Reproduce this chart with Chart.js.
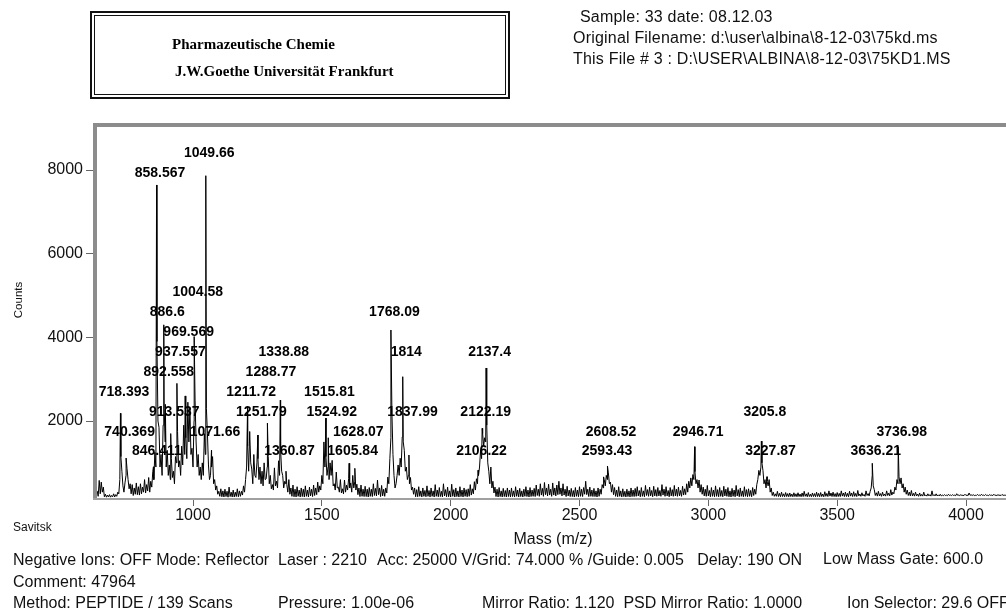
<!DOCTYPE html>
<html>
<head>
<meta charset="utf-8">
<script src="https://cdn.jsdelivr.net/npm/chart.js@4.4.1/dist/chart.umd.min.js"></script>
<style>
html, body { margin: 0; padding: 0; background: #fff; overflow: hidden; }
#wrap { position: relative; width: 1006px; height: 612px; }
canvas { position: absolute; left: 0; top: 0; }
.t { position: absolute; white-space: pre; font-family: "Liberation Sans", Arial, sans-serif;
     font-size: 16px; line-height: 18px; color: #111; }
.hdr { letter-spacing: 0.2px; }
.small { font-size: 12px; line-height: 14px; }
.serif { font-family: "Liberation Serif", "Times New Roman", serif; font-weight: bold;
         font-size: 15px; line-height: 15px; color: #000; }
.box-o { position: absolute; left: 90px; top: 11px; width: 420px; height: 88px;
         border: 2px solid #111; box-sizing: border-box; }
.box-i { position: absolute; left: 94px; top: 15px; width: 412px; height: 80px;
         border: 1px solid #111; box-sizing: border-box; }
</style>
</head>
<body>
<div id="wrap">
  <canvas id="c" width="1006" height="612"></canvas>

  <div class="box-o"></div>
  <div class="box-i"></div>
  <div class="t serif" style="left:172px;top:37px">Pharmazeutische Chemie</div>
  <div class="t serif" style="left:175px;top:64px">J.W.Goethe Universität Frankfurt</div>

  <div class="t hdr" style="left:580px;top:8px">Sample: 33 date: 08.12.03</div>
  <div class="t hdr" style="left:573px;top:29px">Original Filename: d:\user\albina\8-12-03\75kd.ms</div>
  <div class="t hdr" style="left:573px;top:50px">This File # 3 : D:\USER\ALBINA\8-12-03\75KD1.MS</div>

  <div class="t small" style="left:13px;top:520px">Savitsk</div>
  <div class="t" style="left:13px;top:551px">Negative Ions: OFF Mode: Reflector  Laser : 2210</div>
  <div class="t" style="left:377px;top:551px">Acc: 25000 V/Grid: 74.000 % /Guide: 0.005   Delay: 190 ON</div>
  <div class="t" style="left:823px;top:550px">Low Mass Gate: 600.0</div>
  <div class="t" style="left:13px;top:573px">Comment: 47964</div>
  <div class="t" style="left:13px;top:594px">Method: PEPTIDE / 139 Scans</div>
  <div class="t" style="left:278px;top:594px">Pressure: 1.00e-06</div>
  <div class="t" style="left:482px;top:594px">Mirror Ratio: 1.120  PSD Mirror Ratio: 1.0000</div>
  <div class="t" style="left:847px;top:594px">Ion Selector: 29.6 OFF</div>
</div>

<script>
// Axis ticks
const xTicks = [1000, 1500, 2000, 2500, 3000, 3500, 4000];
const yTicks = [2000, 4000, 6000, 8000];

// Raw profile, sampled every 4 Da starting at m/z 628 (20 samples per line)
const gridStart = 628;
const gridStep = 4;
const rawCounts = [
  330, 200, 580, 260, 540, 300, 420, 190, 250, 180, 230, 185, 240, 180, 220, 190, 260, 185, 240, 200,           // 628
  300, 260, 600, 1150, 800, 450, 300, 520, 700, 860, 600, 380, 500, 260, 480, 220, 400, 250, 520, 240,          // 708
  430, 230, 500, 260, 420, 300, 600, 280, 480, 330, 650, 300, 560, 420, 800, 600, 1250, 900, 3900, 2000,        // 788
  1850, 900, 1200, 700, 1900, 2300, 1500, 900, 1300, 700, 950, 600, 1100, 650, 800, 500, 1150, 1000, 1750, 900, // 868
  1050, 700, 1400, 950, 1900, 1200, 1600, 1100, 2450, 1500, 2300, 1200, 1350, 900, 2000, 2500, 1500, 900, 1200, 700, // 948
  900, 600, 1000, 700, 1700, 1200, 2300, 1700, 950, 600, 700, 900, 1150, 500, 600, 350, 450, 250, 320, 200,     // 1028
  380, 190, 330, 185, 370, 195, 320, 180, 420, 195, 300, 185, 350, 185, 300, 195, 380, 190, 330, 200,           // 1108
  320, 230, 450, 300, 600, 900, 1400, 800, 1750, 1000, 850, 500, 1200, 700, 650, 1000, 1100, 600, 900, 500,     // 1188
  800, 450, 1000, 600, 620, 900, 1150, 500, 700, 380, 480, 350, 880, 450, 560, 400, 1050, 700, 1300, 800,       // 1268
  700, 400, 560, 500, 480, 300, 600, 250, 400, 200, 470, 190, 370, 185, 430, 200, 350, 185, 400, 195,           // 1348
  370, 185, 450, 200, 350, 185, 420, 210, 370, 195, 470, 220, 400, 240, 540, 300, 450, 350, 700, 500,           // 1428
  1500, 900, 1150, 700, 900, 600, 1000, 700, 1060, 450, 500, 350, 780, 400, 420, 300, 600, 280, 380, 260,       // 1508
  590, 300, 470, 350, 620, 400, 520, 300, 700, 400, 560, 350, 490, 240, 400, 195, 470, 200, 370, 195,           // 1588
  440, 195, 370, 185, 410, 200, 370, 195, 500, 220, 390, 210, 590, 240, 400, 195, 460, 210, 370, 200,           // 1668
  400, 280, 660, 500, 1100, 1600, 2190, 1200, 700, 400, 500, 700, 950, 700, 1110, 900, 1620, 1500, 1300, 800,   // 1748
  900, 600, 700, 500, 650, 350, 420, 250, 400, 190, 360, 190, 430, 200, 330, 185, 400, 200, 340, 190,           // 1828
  450, 200, 340, 185, 400, 200, 330, 185, 480, 200, 350, 190, 410, 195, 320, 185, 500, 210, 360, 190,           // 1908
  420, 190, 330, 185, 490, 200, 360, 185, 400, 195, 330, 185, 430, 195, 350, 185, 400, 200, 360, 190,           // 1988
  380, 200, 480, 230, 380, 260, 550, 350, 620, 500, 700, 900, 1300, 1100, 1700, 1400, 1600, 1500, 1900, 1000,   // 2068
  800, 500, 900, 400, 560, 280, 420, 195, 370, 185, 410, 195, 330, 185, 390, 195, 340, 185, 400, 195,           // 2148
  350, 185, 400, 195, 330, 185, 430, 200, 350, 185, 390, 195, 330, 185, 370, 200, 430, 195, 350, 185,           // 2228
  410, 195, 350, 200, 390, 195, 470, 220, 370, 200, 500, 230, 390, 200, 530, 240, 400, 210, 490, 230,           // 2308
  370, 200, 520, 230, 400, 210, 470, 240, 560, 250, 400, 210, 500, 230, 370, 195, 440, 210, 350, 195,           // 2388
  390, 195, 340, 185, 410, 200, 350, 190, 430, 200, 370, 195, 410, 250, 560, 240, 370, 195, 420, 200,           // 2468
  350, 195, 390, 195, 330, 185, 400, 200, 370, 250, 480, 400, 600, 450, 700, 600, 760, 500, 540, 300,           // 2548
  480, 240, 410, 200, 350, 190, 430, 200, 330, 185, 380, 195, 320, 185, 370, 195, 330, 185, 400, 195,           // 2628
  350, 195, 390, 200, 430, 210, 340, 190, 410, 200, 330, 190, 460, 220, 360, 200, 420, 210, 340, 190,           // 2708
  440, 210, 360, 200, 410, 210, 340, 200, 480, 230, 370, 200, 430, 210, 340, 190, 410, 210, 360, 200,           // 2788
  460, 210, 370, 200, 420, 210, 340, 200, 440, 230, 380, 240, 500, 300, 560, 400, 640, 450, 720, 600,           // 2868
  790, 500, 600, 400, 590, 300, 480, 250, 420, 210, 370, 200, 460, 210, 340, 190, 410, 200, 350, 190,           // 2948
  450, 200, 360, 190, 410, 200, 340, 190, 440, 210, 370, 200, 410, 190, 330, 185, 390, 200, 350, 190,           // 3028
  460, 210, 360, 190, 400, 200, 330, 190, 430, 200, 360, 190, 380, 200, 340, 190, 410, 220, 370, 250,           // 3108
  480, 600, 820, 700, 900, 1000, 820, 500, 600, 400, 560, 450, 600, 300, 400, 220, 300, 200, 260, 200,          // 3188
  320, 195, 270, 190, 300, 195, 260, 190, 290, 195, 265, 190, 280, 195, 255, 190, 285, 195, 260, 190,           // 3268
  285, 195, 255, 190, 280, 195, 320, 200, 260, 190, 290, 195, 250, 190, 280, 195, 265, 190, 300, 195,           // 3348
  270, 190, 290, 195, 255, 190, 310, 200, 270, 195, 330, 205, 280, 195, 300, 195, 265, 190, 290, 195,           // 3428
  270, 195, 330, 205, 280, 195, 300, 195, 270, 190, 320, 205, 280, 195, 310, 200, 270, 195, 340, 210,           // 3508
  255, 200, 285, 210, 245, 200, 330, 220, 265, 210, 320, 400, 700, 450, 360, 220, 285, 205, 320, 210,           // 3588
  265, 200, 300, 210, 255, 205, 330, 220, 275, 210, 360, 230, 300, 260, 420, 350, 600, 500, 665, 500,           // 3668
  640, 400, 500, 300, 420, 250, 350, 220, 300, 210, 340, 210, 270, 205, 300, 210, 255, 200, 280, 205,           // 3748
  245, 205, 300, 210, 235, 205, 260, 210, 240, 205, 330, 215, 240, 210, 260, 210, 235, 210, 250, 210,           // 3828
  230, 215, 240, 220, 228, 215, 250, 220, 232, 218, 240, 220, 228, 215, 262, 222, 232, 218, 240, 220,           // 3908
  226, 218, 250, 220, 232, 218, 280, 225, 236, 220, 240, 218, 226, 218, 245, 222, 230, 218, 250, 222,           // 3988
  230, 218, 245, 222, 226, 218, 240, 222, 230, 218, 250, 222, 228, 218, 240, 222, 230, 218, 245, 222,           // 4068
  230, 220, 240                                                                                                 // 4148
];

// Centroided, labelled peaks
const peakMz = [
  718.393, 740.369, 846.411, 858.567, 886.6, 892.558, 913.537, 937.557, 969.569,
  1004.58, 1049.66, 1071.66, 1211.72, 1251.79, 1288.77, 1338.88, 1360.87,
  1515.81, 1524.92, 1605.84, 1628.07, 1768.09, 1814, 1837.99,
  2106.22, 2122.19, 2137.4, 2593.43, 2608.52, 2946.71, 3205.8, 3227.87,
  3636.21, 3736.98
];
const peakCounts = [
  2185, 1115, 905, 7643, 4300, 2400, 1700, 2900, 2600,
  4020, 7865, 1300, 2340, 1665, 1950, 2500, 800,
  2070, 1600, 990, 870, 4176, 3060, 1188,
  825, 1826, 3268, 665, 925, 1386, 1520, 669,
  990, 1386
];

// Merge the sampled profile with the peak apexes into one trace
const spectrum = rawCounts.map((c, i) => ({ x: gridStart + gridStep * i, y: c }))
  .concat(peakMz.map((m, i) => ({ x: m, y: peakCounts[i] })))
  .sort((a, b) => a.x - b.x);

const FONT = '"Liberation Sans", Arial, sans-serif';

// Peak annotations: stacked on a fixed row grid, pushed upward when they collide
const peakLabels = {
  id: 'peakLabels',
  beforeDatasetsDraw(chart) {
    const { ctx, chartArea, scales: { x, y } } = chart;
    const rowTop = chartArea.top + 26.1, pitch = 19.9, pad = 6;
    const placed = [];
    ctx.save();
    ctx.font = 'bold 14px ' + FONT;
    ctx.fillStyle = '#000';
    ctx.textAlign = 'center';
    ctx.textBaseline = 'middle';
    peakMz.forEach((m, i) => {
      const text = String(m);
      const w = ctx.measureText(text).width;
      const cx = x.getPixelForValue(m) + 3.5;
      const apex = y.getPixelForValue(peakCounts[i]);
      let row = Math.floor((apex - 10 - rowTop) / pitch);
      const l = cx - w / 2, r = cx + w / 2;
      while (row > 0 && placed.some(p => p.row === row && l < p.r + pad && p.l < r + pad)) row--;
      placed.push({ row, l, r });
      ctx.fillText(text, cx, rowTop + row * pitch);
    });
    ctx.restore();
  }
};

// Grey plot frame and axis titles
const framePlugin = {
  id: 'frame',
  afterDatasetsDraw(chart) {
    const { ctx, chartArea: a } = chart;
    ctx.save();
    ctx.fillStyle = '#8c8c8c';
    ctx.fillRect(a.left - 4, a.top - 4, a.right - a.left + 4, 4);
    ctx.fillRect(a.left - 4, a.top - 4, 4, a.bottom - a.top + 6);
    ctx.fillStyle = '#a0a0a0';
    ctx.fillRect(a.left - 4, a.bottom, a.right - a.left + 4, 2);
    ctx.restore();
  },
  afterDraw(chart) {
    const { ctx } = chart;
    ctx.save();
    ctx.fillStyle = '#111';
    ctx.textAlign = 'center';
    ctx.textBaseline = 'middle';
    ctx.font = '16px ' + FONT;
    ctx.fillText('Mass (m/z)', 553, 540);
    ctx.translate(19, 300);
    ctx.rotate(-Math.PI / 2);
    ctx.font = '11.5px ' + FONT;
    ctx.fillText('Counts', 0, 0);
    ctx.restore();
  }
};

new Chart(document.getElementById('c'), {
  type: 'line',
  data: {
    datasets: [{
      data: spectrum,
      borderColor: '#000',
      borderWidth: 1,
      pointRadius: 0,
      tension: 0,
      fill: false
    }]
  },
  options: {
    responsive: false,
    animation: false,
    devicePixelRatio: 1,
    events: [],
    layout: { padding: { top: 127, left: 0, right: 0, bottom: 0 } },
    plugins: { legend: { display: false }, tooltip: { enabled: false } },
    scales: {
      x: {
        type: 'linear',
        min: 627.4,
        max: 4155.2,
        afterBuildTicks: s => { s.ticks = xTicks.map(v => ({ value: v })); },
        afterFit: s => { s.height = 114; },
        border: { display: false },
        grid: { drawOnChartArea: false, tickLength: 8, color: '#666' },
        ticks: {
          autoSkip: false, maxRotation: 0, padding: 0, color: '#111',
          font: { family: FONT, size: 16 },
          callback: v => String(v)
        }
      },
      y: {
        type: 'linear',
        min: 160,
        max: 9029,
        afterBuildTicks: s => { s.ticks = yTicks.map(v => ({ value: v })); },
        afterFit: s => { s.width = 97; },
        border: { display: false },
        grid: { drawOnChartArea: false, tickLength: 11, color: '#666' },
        ticks: {
          padding: 3, color: '#111',
          font: { family: FONT, size: 16 },
          callback: v => String(v)
        }
      }
    }
  },
  plugins: [peakLabels, framePlugin]
});
</script>
</body>
</html>
